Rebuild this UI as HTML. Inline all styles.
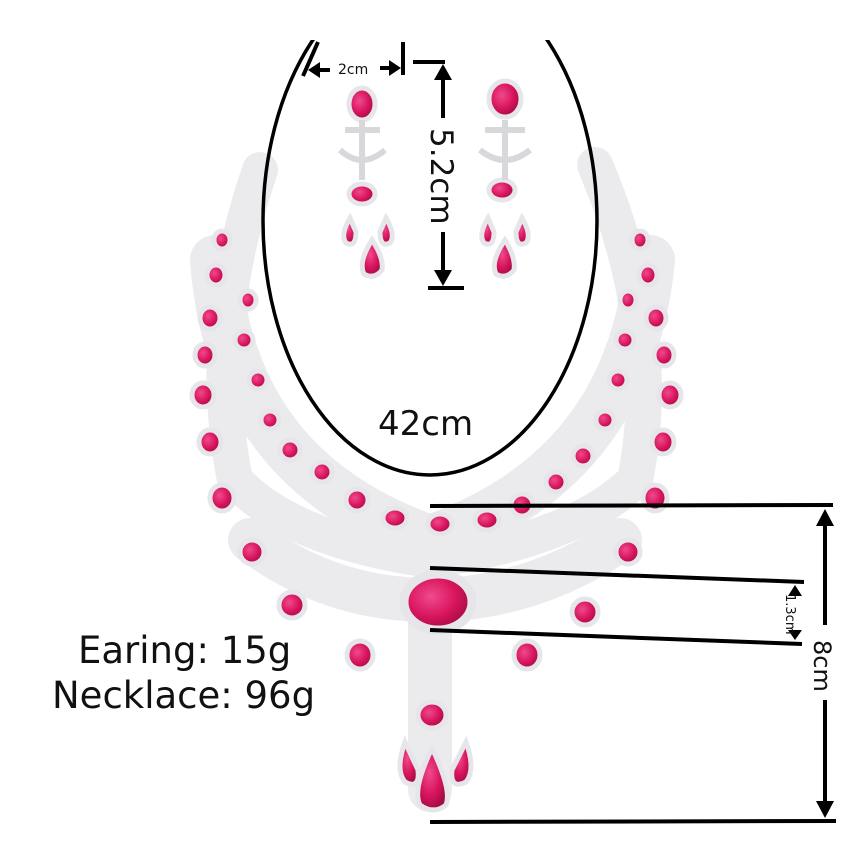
<!DOCTYPE html>
<html><head><meta charset="utf-8"><style>
html,body{margin:0;padding:0;background:#fff;}
svg{display:block;}
text{font-family:"DejaVu Sans","Liberation Sans",sans-serif;fill:#111;}
</style></head><body>
<svg width="845" height="842" viewBox="0 0 845 842" xmlns="http://www.w3.org/2000/svg">
<defs>
<radialGradient id="rb" cx="40%" cy="40%" r="60%"><stop offset="0" stop-color="#f04a8c"/><stop offset="0.6" stop-color="#d8155e"/><stop offset="1" stop-color="#a80c44"/></radialGradient>
</defs>
<rect width="845" height="842" fill="#fff"/>
<g fill="none" stroke="#dcdce0" stroke-linecap="round" opacity="0.55">
<path d="M260 170 Q205 330 235 480 Q290 540 430 560 Q575 540 635 480 Q665 330 595 165" stroke-width="36"/>
<path d="M215 260 Q230 470 430 540 Q630 470 650 260" stroke-width="50"/>
<path d="M250 540 Q330 600 430 600 Q530 600 620 540" stroke-width="44"/>
<path d="M430 600 L430 790" stroke-width="44"/>
</g>
<g fill="url(#rb)" stroke="#e6e6ea" stroke-width="5">
<ellipse cx="222" cy="240" rx="8" ry="9"/><ellipse cx="216" cy="275" rx="9" ry="10"/><ellipse cx="210" cy="318" rx="10" ry="11"/>
<ellipse cx="205" cy="355" rx="10" ry="11"/><ellipse cx="203" cy="395" rx="11" ry="12"/><ellipse cx="210" cy="442" rx="11" ry="12"/>
<ellipse cx="222" cy="498" rx="12" ry="13"/><ellipse cx="252" cy="552" rx="12" ry="12"/><ellipse cx="292" cy="605" rx="13" ry="13"/>
<ellipse cx="360" cy="655" rx="13" ry="14"/><ellipse cx="248" cy="300" rx="8" ry="9"/><ellipse cx="244" cy="340" rx="9" ry="9"/>
<ellipse cx="258" cy="380" rx="9" ry="9"/><ellipse cx="270" cy="420" rx="9" ry="9"/><ellipse cx="290" cy="450" rx="10" ry="10"/>
<ellipse cx="322" cy="472" rx="10" ry="10"/><ellipse cx="357" cy="500" rx="11" ry="11"/><ellipse cx="395" cy="518" rx="12" ry="10"/>
<ellipse cx="440" cy="524" rx="12" ry="10"/><ellipse cx="487" cy="520" rx="12" ry="10"/><ellipse cx="522" cy="505" rx="11" ry="11"/>
<ellipse cx="556" cy="482" rx="10" ry="10"/><ellipse cx="583" cy="456" rx="10" ry="10"/><ellipse cx="605" cy="420" rx="9" ry="9"/>
<ellipse cx="618" cy="380" rx="9" ry="9"/><ellipse cx="625" cy="340" rx="9" ry="9"/><ellipse cx="628" cy="300" rx="8" ry="9"/>
<ellipse cx="640" cy="240" rx="8" ry="9"/><ellipse cx="648" cy="275" rx="9" ry="10"/><ellipse cx="656" cy="318" rx="10" ry="11"/>
<ellipse cx="664" cy="355" rx="10" ry="11"/><ellipse cx="670" cy="395" rx="11" ry="12"/><ellipse cx="663" cy="442" rx="11" ry="12"/>
<ellipse cx="655" cy="498" rx="12" ry="13"/><ellipse cx="628" cy="552" rx="12" ry="12"/><ellipse cx="585" cy="612" rx="13" ry="13"/>
<ellipse cx="527" cy="655" rx="13" ry="14"/><ellipse cx="438" cy="602" rx="34" ry="28" stroke-width="9"/>
<ellipse cx="432" cy="715" rx="14" ry="13"/><path d="M405 742 Q395 770 405 782 Q420 790 418 770 Z"/>
<path d="M466 742 Q476 770 466 782 Q450 790 452 770 Z"/><path d="M432 748 Q412 790 420 805 Q434 815 446 805 Q452 790 432 748 Z"/>
<ellipse cx="362" cy="104" rx="13" ry="16"/><ellipse cx="362" cy="194" rx="13" ry="10"/>
<path d="M350 218 Q340 235 346 243 Q356 248 356 232 Z"/><path d="M386 218 Q396 235 390 243 Q380 248 380 232 Z"/>
<path d="M372 240 Q358 262 364 274 Q374 280 382 270 Q384 258 372 240 Z"/>
<ellipse cx="505" cy="99" rx="16" ry="18"/><ellipse cx="502" cy="190" rx="13" ry="10"/>
<path d="M488 218 Q478 235 484 243 Q494 248 494 232 Z"/><path d="M522 218 Q532 235 526 243 Q516 248 516 232 Z"/>
<path d="M505 240 Q490 262 496 274 Q506 280 514 270 Q516 258 505 240 Z"/>
</g>
<g fill="none" stroke="#d8d8dc" stroke-width="6">
<path d="M345 130 L380 130 M340 150 Q362 170 385 150 M362 120 L362 180"/>
<path d="M485 130 L525 130 M480 150 Q505 170 530 150 M505 120 L505 180"/>
</g>
<ellipse cx="430" cy="221" rx="167" ry="254" fill="none" stroke="#000" stroke-width="3.5"/>
<rect x="0" y="0" width="845" height="40" fill="#fff"/>
<text x="378" y="435" font-size="34">42cm</text>
<g stroke="#000" stroke-width="4" fill="#000">
<line x1="303" y1="76" x2="318" y2="42"/>
<line x1="403" y1="42" x2="403" y2="75"/>
<line x1="312" y1="70" x2="330" y2="70"/><polygon points="308,70 320,62 320,78" stroke="none"/>
<line x1="380" y1="68" x2="395" y2="68"/><polygon points="401,68 389,60 389,76" stroke="none"/>
<line x1="413" y1="62" x2="445" y2="62"/><line x1="443" y1="70" x2="443" y2="118"/><polygon points="443,64 434,80 452,80" stroke="none"/>
<line x1="443" y1="232" x2="443" y2="278"/><polygon points="443,286 434,270 452,270" stroke="none"/>
<line x1="428" y1="288" x2="464" y2="288"/>
<line x1="430" y1="506" x2="833" y2="505"/><line x1="430" y1="822" x2="836" y2="821"/>
<line x1="825" y1="520" x2="825" y2="625"/><polygon points="825,509 816,526 834,526" stroke="none"/>
<line x1="825" y1="700" x2="825" y2="806"/><polygon points="825,818 816,801 834,801" stroke="none"/>
<line x1="430" y1="568" x2="804" y2="582"/><line x1="430" y1="630" x2="802" y2="644"/>
<polygon points="795,585 788,596 802,596" stroke="none"/><polygon points="795,640 788,630 802,630" stroke="none"/>
</g>
<text x="338" y="74" font-size="14">2cm</text>
<text transform="translate(431,128) rotate(90)" font-size="31">5.2cm</text>
<text transform="translate(814,640) rotate(90)" font-size="24">8cm</text>
<text transform="translate(786,594) rotate(90)" font-size="13">1.3cm</text>
<text x="78" y="663" font-size="37">Earing: 15g</text>
<text x="52" y="708" font-size="37">Necklace: 96g</text>
</svg>
</body></html>
